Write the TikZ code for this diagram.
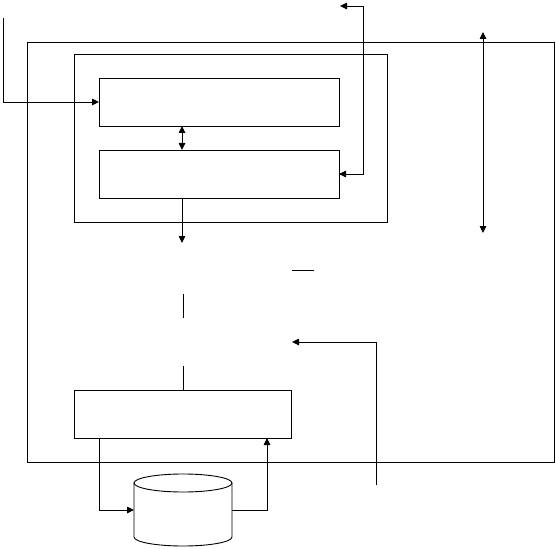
\documentclass[tikz,border=0pt]{standalone}
\usetikzlibrary{arrows.meta}
\begin{document}
\begin{tikzpicture}[x=1pt,y=-1pt,
  ln/.style={line width=0.9pt},
  blk/.style={draw,ln,rectangle,inner sep=0pt,outer sep=0pt,anchor=north west},
  arr/.style={ln,-{Triangle[length=7pt,width=6.5pt]}},
  dbl/.style={ln,{Triangle[length=7pt,width=6.5pt]}-{Triangle[length=7pt,width=6.5pt]}}]
\useasboundingbox (0,0) rectangle (556,548);
\node[blk,minimum width=527pt,minimum height=420pt] (outer) at (27,42) {};
\node[blk,minimum width=313pt,minimum height=168pt] (mid) at (74,54) {};
\node[blk,minimum width=240pt,minimum height=48pt] (box1) at (99,78) {};
\node[blk,minimum width=240pt,minimum height=48pt] (box2) at (99,150) {};
\node[blk,minimum width=217pt,minimum height=48pt] (box3) at (74,390) {};
\node[rectangle,inner sep=0pt,outer sep=0pt,anchor=north west,minimum width=98pt,minimum height=72pt] (cyl) at (134,474) {};
% cylinder outline
\draw[ln] ([yshift=-9pt]cyl.north) ellipse [x radius=49pt, y radius=9pt];
\draw[ln] ([yshift=-9pt]cyl.north west) -- ([yshift=9pt]cyl.south west)
  arc[start angle=180,end angle=360,x radius=49pt,y radius=9pt]
  -- ([yshift=-9pt]cyl.north east);
% coordinates
\coordinate (in0) at (3,18);
\coordinate (fbtop) at (340,6);
\coordinate (fbturn) at (363,6);
\coordinate (down1) at (182,243);
\coordinate (rtop) at (483,32);
\coordinate (rbot) at (483,233);
\coordinate (h1) at (292,270);
\coordinate (h2) at (314,270);
\coordinate (v1a) at (183,294);
\coordinate (v1b) at (183,318);
\coordinate (v2a) at (183,366);
\coordinate (c1) at (376,485);
\coordinate (c2) at (292,342);
% connectors
\draw[arr] (in0) |- (box1.west);
\draw[dbl] ([xshift=83pt]box1.south west) -- ([xshift=83pt]box2.north west);
\draw[arr] ([xshift=83pt]box2.south west) -- (down1);
\draw[dbl] (fbtop) -- (fbturn) |- (box2.east);
\draw[dbl] (rtop) -- (rbot);
\draw[ln] (h1) -- (h2);
\draw[ln] (v1a) -- (v1b);
\draw[ln] (v2a) -- (v2a |- box3.north);
\draw[arr] (c1) |- (c2);
\draw[arr] ([xshift=25pt]box3.south west) |- (cyl.west);
\draw[arr] (cyl.east) -| ([xshift=193pt]box3.south west);
\end{tikzpicture}
\end{document}
